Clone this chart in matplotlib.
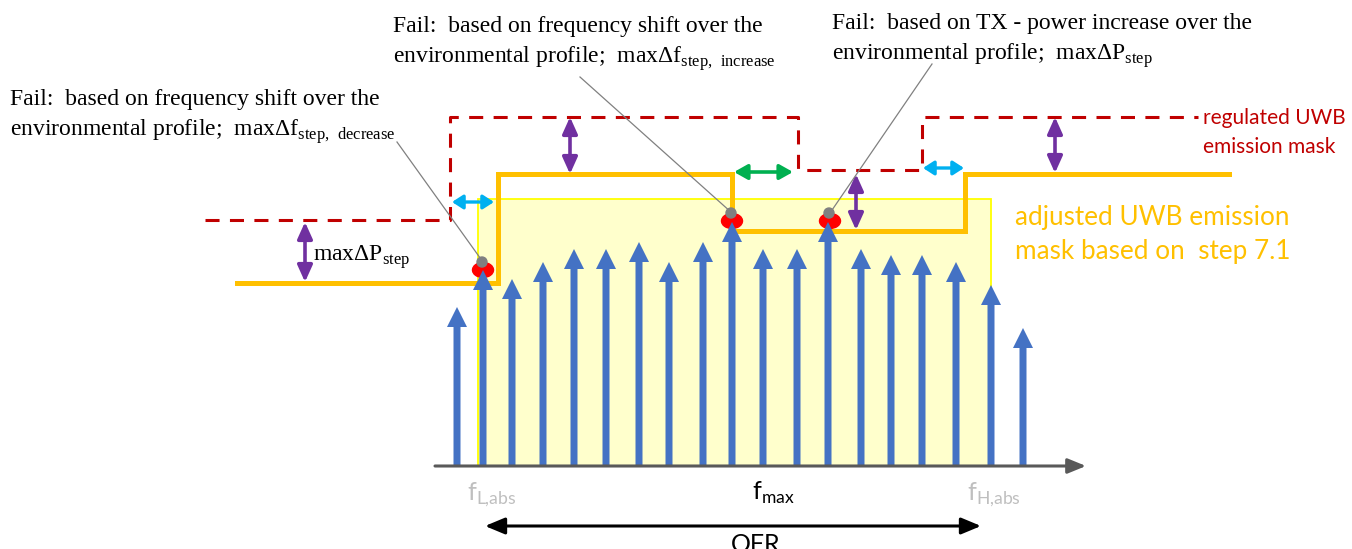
import matplotlib
matplotlib.use("Agg")
import matplotlib.pyplot as plt
from matplotlib.patches import FancyArrow, FancyArrowPatch, Rectangle, Ellipse, Circle

plt.rcParams['mathtext.fontset'] = 'custom'
plt.rcParams['mathtext.rm'] = 'Liberation Serif'
plt.rcParams['mathtext.sf'] = 'Lato'

# spectral lines: position along the axis and tip level (picture units, y grows downwards)
line_x = [457, 483, 512, 543, 574, 606, 639, 669, 703, 732, 763, 797, 828, 861, 891, 922, 956, 991, 1023]
line_tip = [307, 270, 279, 262, 249, 249, 242, 262, 242, 222, 249, 249, 222, 249, 255, 255, 262, 285, 328]
axis_y = 466

# regulated mask (red dashed) and adjusted mask (orange)
reg_x = [205, 450, 450, 798, 798, 922, 922, 1198]
reg_y = [220, 220, 117, 117, 170, 170, 117, 117]
adj_x = [237, 498, 498, 732, 732, 965, 965, 1229]
adj_y = [283, 283, 174, 174, 231, 231, 174, 174]

# failure points and where the notes point to
fail_x = [483, 732, 830]
fail_y = [270, 221, 221]
note_start = [(397, 142), (580, 77), (932, 64)]

# double arrows: (x0, y0, x1, y1)
purple_arrows = [(305, 222, 305, 282), (570, 117, 570, 174), (856, 174, 856, 230), (1055, 117, 1055, 173)]
cyan_arrows = [(452, 202, 494, 202), (923, 168, 964, 168)]
green_arrows = [(734, 172, 793, 172)]

ofr_x = [478, 991]

fig = plt.figure(figsize=(13.52, 5.49), dpi=100)
ax = fig.add_axes([0, 0, 1, 1])
ax.set_xlim(0, 1352)
ax.set_ylim(549, 0)
ax.axis('off')

# OFR shaded region
ax.add_patch(Rectangle((ofr_x[0], 199), ofr_x[1] - ofr_x[0], axis_y - 199,
                       facecolor='#FFFFCC', edgecolor='#FFFF00', lw=1.3, zorder=1))

# masks
ax.plot(reg_x, reg_y, color='#C00000', lw=2.2, linestyle=(0, (4.6, 3.4)), zorder=2)
ax.plot(adj_x, adj_y, color='#FFC000', lw=3.6, solid_joinstyle='miter', zorder=2)

# red failure blobs sit behind the line tips
for fx, fy in zip(fail_x, fail_y):
    ax.add_patch(Ellipse((fx, fy), 21, 15, color='#FF0000', zorder=2.5))

# spectral lines
for x, tip in zip(line_x, line_tip):
    ax.add_patch(FancyArrow(x, axis_y, 0, tip - axis_y, width=7, head_width=20, head_length=20,
                            length_includes_head=True, color='#4472C4', lw=0, zorder=3))

# frequency axis
ax.add_patch(FancyArrowPatch((435, axis_y), (1086, axis_y), arrowstyle='-|>,head_length=1.1,head_width=0.45',
                             mutation_scale=10, color='#595959', lw=2.2, shrinkA=0, shrinkB=0, zorder=4))

def double_arrow(x0, y0, x1, y1, color, lw=2.6, hl=1.0, hw=0.45):
    ax.add_patch(FancyArrowPatch((x0, y0), (x1, y1), arrowstyle='<|-|>,head_length=%s,head_width=%s' % (hl, hw),
                                 mutation_scale=10, color=color, lw=lw, shrinkA=0, shrinkB=0, zorder=5))

for a in purple_arrows:
    double_arrow(*a, color='#7030A0')
for a in cyan_arrows:
    double_arrow(*a, color='#00B0F0', lw=2.4, hl=0.65, hw=0.42)
for a in green_arrows:
    double_arrow(*a, color='#00B050', hl=0.8)

# leader lines
for (sx, sy), fx, fy in zip(note_start, fail_x, fail_y):
    ax.plot([sx, fx], [sy, fy - 8], color='#808080', lw=0.9, zorder=6)
    ax.add_patch(Circle((fx - 1, fy - 8), 5, color='#808080', zorder=7))

# notes
serif = 'Liberation Serif'
fs = 17
ax.text(10, 105, 'Fail:  based on frequency shift over the', family=serif, fontsize=fs, va='baseline')
ax.text(10, 136, 'environmental profile;  max\u0394f$_{\\mathrm{step,\\ decrease}}$', family=serif, fontsize=fs, va='baseline')
ax.text(393, 32, 'Fail:  based on frequency shift over the', family=serif, fontsize=fs, va='baseline')
ax.text(393, 63, 'environmental profile;  max\u0394f$_{\\mathrm{step,\\ increase}}$', family=serif, fontsize=fs, va='baseline')
ax.text(832, 29, 'Fail:  based on TX - power increase over the', family=serif, fontsize=fs, va='baseline')
ax.text(832, 60, 'environmental profile;  max\u0394P$_{\\mathrm{step}}$', family=serif, fontsize=fs, va='baseline')
ax.text(313, 257, 'max\u0394P$_{\\mathrm{step}}$', family=serif, fontsize=fs, va='center')

ax.text(1203, 118, 'regulated UWB', family='Lato', fontsize=15, color='#C00000', va='center')
ax.text(1203, 147, 'emission mask', family='Lato', fontsize=15, color='#C00000', va='center')
ax.text(1015, 218, 'adjusted UWB emission', family='Lato', fontsize=18.8, color='#FFC000', va='center')
ax.text(1015, 252, 'mask based on  step 7.1', family='Lato', fontsize=18.8, color='#FFC000', va='center')

# axis labels
ax.text(467, 500, 'f$_{\\mathsf{L{,}abs}}$', family='Lato', fontsize=18, color='#BFBFBF', va='baseline')
ax.text(752, 500, 'f$_{\\mathsf{max}}$', family='Lato', fontsize=18, color='black', va='baseline')
ax.text(967, 500, 'f$_{\\mathsf{H{,}abs}}$', family='Lato', fontsize=18, color='#BFBFBF', va='baseline')

ax.add_patch(FancyArrowPatch((485, 526), (981, 526), arrowstyle='<|-|>,head_length=1.2,head_width=0.5',
                             mutation_scale=10, color='black', lw=2.2, shrinkA=0, shrinkB=0))
ax.text(756, 533, 'OFR', family='Lato', fontsize=18, color='black', ha='center', va='top')

fig.savefig('out.png', dpi=100)
